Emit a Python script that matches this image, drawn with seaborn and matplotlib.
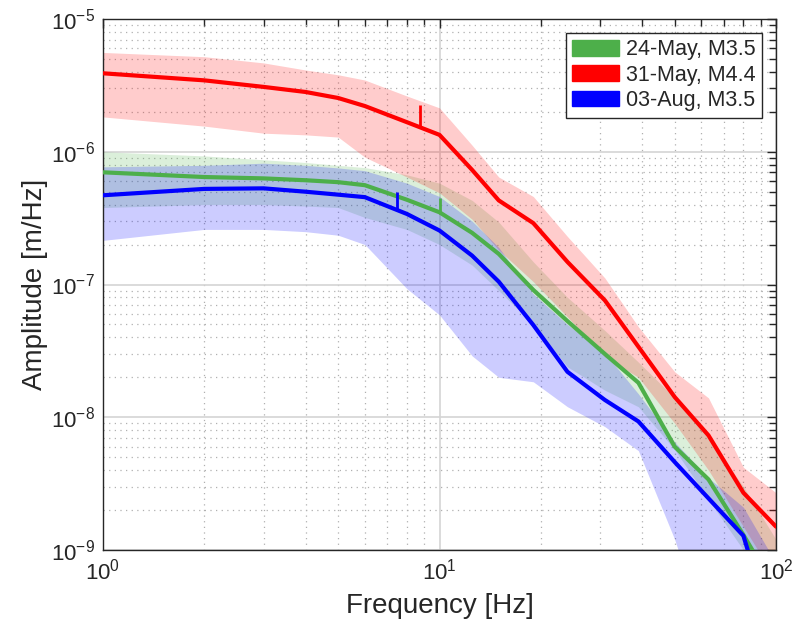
import matplotlib
matplotlib.use("Agg")
import matplotlib.pyplot as plt
import numpy as np
import pandas as pd
import seaborn as sns
from matplotlib.patches import Patch
from matplotlib.ticker import LogLocator, NullFormatter

# ---------------- data ----------------
freq = [1, 2, 3, 4, 5, 6, 8, 10, 12.5, 15, 19, 24, 31, 39, 50, 63, 80, 100]

events = ["24-May, M3.5", "31-May, M4.4", "03-Aug, M3.5"]
colors = ["#4daf4a", "#ff0000", "#0000ff"]

green_mid = [7.0e-7, 6.45e-7, 6.3e-7, 6.1e-7, 5.9e-7, 5.6e-7, 4.35e-7, 3.5e-7, 2.45e-7, 1.7e-7,
             9.1e-8, 5.3e-8, 3.0e-8, 1.82e-8, 6.0e-9, 3.4e-9, 1.3e-9, 5e-10]
green_hi = [1.0e-6, 9.3e-7, 8.7e-7, 8.3e-7, 7.9e-7, 7.6e-7, 6.7e-7, 5.8e-7, 4.3e-7, 2.95e-7,
            1.48e-7, 8.0e-8, 4.5e-8, 2.6e-8, 1.4e-8, 7.0e-9, 3.0e-9, 1.2e-9]
green_lo = [3.8e-7, 4.0e-7, 4.0e-7, 3.9e-7, 3.8e-7, 3.2e-7, 2.6e-7, 2.0e-7, 1.4e-7, 9.0e-8,
            5.0e-8, 2.4e-8, 1.6e-8, 1.2e-8, 5.7e-9, 2.4e-9, 1.0e-9, 3e-10]

red_mid = [3.9e-6, 3.45e-6, 3.08e-6, 2.82e-6, 2.54e-6, 2.21e-6, 1.67e-6, 1.34e-6, 7.3e-7, 4.3e-7,
           2.9e-7, 1.48e-7, 7.6e-8, 3.4e-8, 1.42e-8, 7.3e-9, 2.7e-9, 1.5e-9]
red_hi = [5.6e-6, 5.2e-6, 4.67e-6, 4.13e-6, 3.8e-6, 3.47e-6, 2.63e-6, 2.14e-6, 1.12e-6, 6.45e-7,
          4.6e-7, 2.3e-7, 1.12e-7, 4.8e-8, 2.2e-8, 1.4e-8, 4.2e-9, 2.7e-9]
red_lo = [1.83e-6, 1.56e-6, 1.38e-6, 1.34e-6, 1.29e-6, 9.1e-7, 6.45e-7, 4.9e-7, 3.1e-7, 1.82e-7,
          1.05e-7, 5.7e-8, 2.85e-8, 2.0e-8, 9.0e-9, 4.0e-9, 1.5e-9, 6e-10]

blue_mid = [4.7e-7, 5.25e-7, 5.3e-7, 5.0e-7, 4.75e-7, 4.55e-7, 3.4e-7, 2.55e-7, 1.65e-7, 1.05e-7,
            4.95e-8, 2.2e-8, 1.35e-8, 9.3e-9, 4.6e-9, 2.45e-9, 1.28e-9, 2e-10]
blue_hi = [7.7e-7, 7.9e-7, 8.2e-7, 7.9e-7, 7.55e-7, 7.2e-7, 5.8e-7, 4.6e-7, 3.0e-7, 1.9e-7,
           8.5e-8, 5.0e-8, 3.05e-8, 1.5e-8, 6.5e-9, 3.5e-9, 2.1e-9, 8e-10]
blue_lo = [2.15e-7, 2.6e-7, 2.6e-7, 2.5e-7, 2.35e-7, 2.0e-7, 9.3e-8, 5.9e-8, 2.9e-8, 2.0e-8,
           1.85e-8, 1.2e-8, 8.5e-9, 5.6e-9, 1.2e-9, 2e-10, 1e-10, 1e-10]

# corner-frequency markers (short vertical bars)
marker_freq = [10.0, 8.75, 7.5]
marker_lo = [3.4e-7, 1.56e-6, 3.64e-7]
marker_hi = [4.5e-7, 2.25e-6, 4.98e-7]

xlabel = "Frequency [Hz]"
ylabel = "Amplitude [m/Hz]"

# ---------------- build table ----------------
mids = [green_mid, red_mid, blue_mid]
his = [green_hi, red_hi, blue_hi]
los = [green_lo, red_lo, blue_lo]
rows = []
for ev, m in zip(events, mids):
    for f, v in zip(freq, m):
        rows.append({"freq": f, "amp": v, "event": ev})
df = pd.DataFrame(rows)

# ---------------- style ----------------
sns.set_theme(style="white")
plt.rcParams["font.family"] = ["Liberation Sans", "DejaVu Sans"]
plt.rcParams["mathtext.fontset"] = "custom"
plt.rcParams["mathtext.rm"] = "Liberation Sans"
plt.rcParams["mathtext.it"] = "Liberation Sans:italic"
plt.rcParams["mathtext.bf"] = "Liberation Sans:bold"
txtc = "#262626"

fig = plt.figure(figsize=(8.07, 6.23), dpi=100)
ax = fig.add_axes([103 / 807, 1 - 550 / 623, 673 / 807, 531 / 623])

for c, lo, hi in zip(colors, los, his):
    ax.fill_between(freq, lo, hi, color=c, alpha=0.2, linewidth=0, zorder=2)

sns.lineplot(data=df, x="freq", y="amp", hue="event", palette=dict(zip(events, colors)),
             hue_order=events, estimator=None, sort=False, linewidth=3, legend=False,
             ax=ax, zorder=4)

for f, lo, hi, c in zip(marker_freq, marker_lo, marker_hi, colors):
    ax.vlines(f, lo, hi, color=c, linewidth=2, zorder=4)

ax.set_xscale("log")
ax.set_yscale("log")
ax.set_xlim(1, 100)
ax.set_ylim(1e-9, 1e-5)

ax.xaxis.set_major_locator(LogLocator(base=10, numticks=10))
ax.yaxis.set_major_locator(LogLocator(base=10, numticks=10))
ax.xaxis.set_minor_locator(LogLocator(base=10, subs=np.arange(2, 10), numticks=20))
ax.yaxis.set_minor_locator(LogLocator(base=10, subs=np.arange(2, 10), numticks=20))
ax.xaxis.set_minor_formatter(NullFormatter())
ax.yaxis.set_minor_formatter(NullFormatter())

ax.grid(which="major", color="#d4d4d4", linewidth=1.2, linestyle="-", zorder=0)
ax.grid(which="minor", color="#b0b0b0", linewidth=0.9, linestyle=(0, (1, 3.5)), zorder=0)
ax.set_axisbelow(True)

ax.tick_params(which="both", direction="in", top=True, right=True, colors=txtc,
               labelsize=16, width=1.0)
ax.tick_params(which="major", length=6.5, pad=6)
ax.tick_params(which="minor", length=5)
for s in ax.spines.values():
    s.set_color(txtc)
    s.set_linewidth(1.0)

ax.set_xlabel(xlabel, fontsize=20, color=txtc, labelpad=6)
ax.set_ylabel(ylabel, fontsize=20, color=txtc, labelpad=2)

handles = [Patch(facecolor=c, edgecolor=c, label=e) for e, c in zip(events, colors)]
leg = ax.legend(handles=handles, loc="upper right", bbox_to_anchor=(762 / 807, 1 - 33 / 623),
                bbox_transform=fig.transFigure, fontsize=15.5, frameon=True, fancybox=False,
                edgecolor=txtc, framealpha=1, handlelength=2.2, handleheight=0.75,
                handletextpad=0.3, labelspacing=0.2, borderpad=0.3, borderaxespad=0)
leg.get_frame().set_linewidth(1.0)
for t in leg.get_texts():
    t.set_color(txtc)

fig.savefig("out.png", dpi=100)
